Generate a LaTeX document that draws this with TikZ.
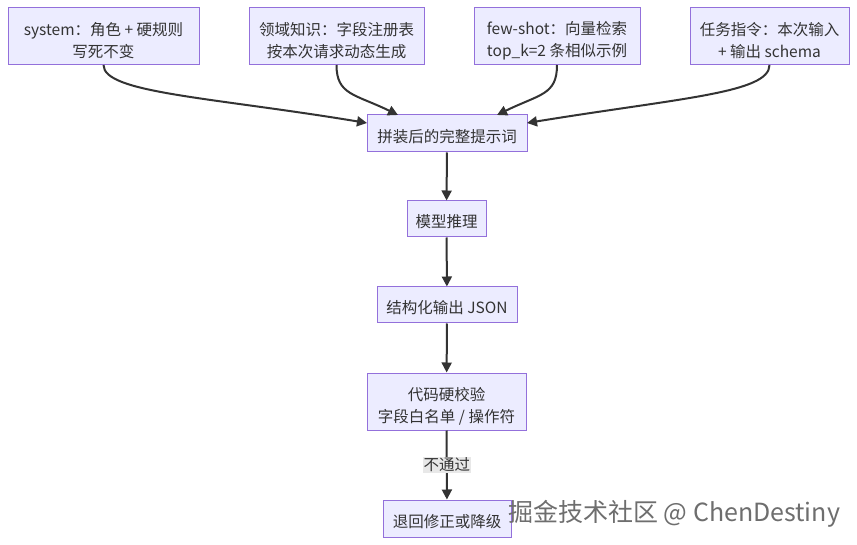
\documentclass[tikz,border=0pt]{standalone}
\usepackage{fontspec}
\setmainfont{Noto Sans CJK SC}
\usetikzlibrary{arrows.meta}
\definecolor{boxfill}{HTML}{ECECFF}
\definecolor{boxdraw}{HTML}{9370DB}
\definecolor{txt}{HTML}{333333}
\definecolor{edge}{HTML}{333333}
\definecolor{lblbg}{HTML}{E8E8E8}
\definecolor{wm}{HTML}{6E6E6E}
\newcommand{\tightlines}{\setlength{\lineskiplimit}{-100pt}}
\tikzset{
  flowbox/.style={draw=boxdraw, fill=boxfill, line width=1pt, inner sep=0pt},
  boxtext/.style={text=txt, align=center, inner sep=0pt,
    font=\fontsize{15.5}{22}\selectfont\tightlines},
  flowedge/.style={draw=edge, line width=2pt, -{Triangle[length=10pt,width=10pt]}},
  edgelabel/.style={fill=lblbg, text=txt, inner sep=1pt, font=\fontsize{15.5}{18}\selectfont},
}
\begin{document}
\begin{tikzpicture}[x=1pt,y=-1pt]
\useasboundingbox[fill=white] (0,0) rectangle (857,545);
\node[flowbox, minimum width=191pt, minimum height=57pt] (sys) at (103.5,36) {};
\node[boxtext] (sys-t) at ([yshift=-5pt]sys.center) {system：角色 + 硬规则\\写死不变};
\node[flowbox, minimum width=175pt, minimum height=57pt] (dom) at (336.5,36) {};
\node[boxtext] (dom-t) at ([yshift=-5pt]dom.center) {领域知识：字段注册表\\按本次请求动态生成};
\node[flowbox, minimum width=166pt, minimum height=57pt] (few) at (557,36) {};
\node[boxtext] (few-t) at ([yshift=-5pt]few.center) {few-shot：向量检索\\top\_k=2 条相似示例};
\node[flowbox, minimum width=159pt, minimum height=57pt] (task) at (769.5,36) {};
\node[boxtext] (task-t) at ([yshift=-5pt]task.center) {任务指令：本次输入\\+ 输出 schema};
\node[flowbox, minimum width=160pt, minimum height=37pt] (prompt) at (447,133.5) {};
\node[boxtext] (prompt-t) at ([yshift=-3pt]prompt.center) {拼装后的完整提示词};
\node[flowbox, minimum width=79pt, minimum height=36pt] (model) at (446.5,219) {};
\node[boxtext] (model-t) at ([yshift=-3pt]model.center) {模型推理};
\node[flowbox, minimum width=140pt, minimum height=36pt] (json) at (447,305) {};
\node[boxtext] (json-t) at ([yshift=-3pt]json.center) {结构化输出 JSON};
\node[flowbox, minimum width=159pt, minimum height=57pt] (check) at (446.5,401.5) {};
\node[boxtext] (check-t) at ([yshift=-5pt]check.center) {代码硬校验\\字段白名单 / 操作符};
\node[flowbox, minimum width=128pt, minimum height=37pt] (fallback) at (447,518.5) {};
\node[boxtext] (fallback-t) at ([yshift=-3pt]fallback.center) {退回修正或降级};

\coordinate (p1) at (367,123);
\coordinate (p2) at (398,115);
\coordinate (p3) at (497,115);
\coordinate (p4) at (527,123);
\draw[flowedge] (sys.south) .. controls ++(0,28) and (210,97) .. (p1);
\draw[flowedge] (dom.south) .. controls ++(0,30) and (355,94) .. (p2);
\draw[flowedge] (few.south) .. controls ++(0,30) and (540,94) .. (p3);
\draw[flowedge] (task.south) .. controls ++(0,28) and (680,98) .. (p4);

\draw[flowedge] (prompt) -- (model);
\draw[flowedge] (model) -- (json);
\draw[flowedge] (json) -- (check);
\draw[flowedge] (check) -- node[edgelabel] (lbl) {不通过} (fallback);

\node[text=wm, font=\fontsize{25}{28}\selectfont, anchor=west, inner sep=0pt] (wmark) at (508,514) {掘金技术社区 @ ChenDestiny};
\end{tikzpicture}
\end{document}
